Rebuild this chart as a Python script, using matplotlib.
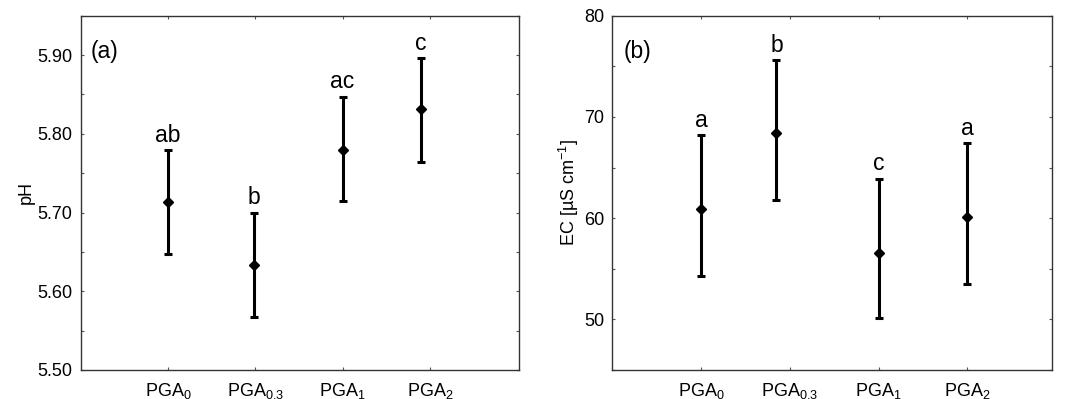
import matplotlib
matplotlib.use("Agg")
import matplotlib.pyplot as plt
from matplotlib.ticker import MultipleLocator

# treatments
labels = [r"PGA$_\mathregular{0}$", r"PGA$_\mathregular{0.3}$",
          r"PGA$_\mathregular{1}$", r"PGA$_\mathregular{2}$"]

# (a) pH: mean, lower, upper, letters, plotted x
ph_x = [1.0, 1.98, 3.0, 3.9]
ph_mean = [5.713, 5.633, 5.780, 5.831]
ph_low = [5.647, 5.567, 5.714, 5.764]
ph_high = [5.779, 5.700, 5.847, 5.896]
ph_letters = ["ab", "b", "ac", "c"]

# (b) EC: mean, lower, upper, letters, plotted x
ec_x = [1.0, 1.85, 3.0, 4.0]
ec_mean = [60.9, 68.4, 56.6, 60.1]
ec_low = [54.3, 61.8, 50.1, 53.5]
ec_high = [68.2, 75.6, 63.9, 67.4]
ec_letters = ["a", "b", "c", "a"]

plt.rcParams.update({
    'font.family': 'Liberation Sans',
    'mathtext.fontset': 'custom',
    'mathtext.rm': 'Liberation Sans',
    'font.size': 13,
    'axes.linewidth': 1.0,
    'axes.edgecolor': '#333333',
})

fig = plt.figure(figsize=(10.74, 3.99), dpi=100)
ax_a = fig.add_axes([0.0751, 0.0727, 0.4081, 0.888])
ax_b = fig.add_axes([0.5701, 0.0727, 0.4091, 0.888])


def draw_panel(ax, xs, mean, low, high, letters, tag, tag_x, ylabel):
    yerr = [[m - l for m, l in zip(mean, low)], [h - m for m, h in zip(mean, high)]]
    ax.errorbar(xs, mean, yerr=yerr, fmt='D', color='black', markersize=5.5,
                elinewidth=2.2, capsize=3.2, capthick=2.2, zorder=3)
    for x, h, t in zip(xs, high, letters):
        ax.annotate(t, (x, h), xytext=(0, 2.5), textcoords='offset points',
                    ha='center', va='bottom', fontsize=16.5)
    ax.text(tag_x, 0.9, tag, transform=ax.transAxes, fontsize=16.5,
            ha='left', va='center')
    ax.set_xticks([1, 2, 3, 4])
    ax.set_xticklabels(labels, fontsize=13)
    ax.set_ylabel(ylabel, fontsize=13, labelpad=2)
    ax.tick_params(which='both', direction='in', length=2.5, width=0.8,
                   color='#555555', top=True, right=True, pad=6)
    ax.tick_params(axis='x', labelsize=13, pad=8)


draw_panel(ax_a, ph_x, ph_mean, ph_low, ph_high, ph_letters, "(a)", 0.022, "pH")
ax_a.set_xlim(0, 5.02)
ax_a.set_ylim(5.50, 5.95)
ax_a.yaxis.set_minor_locator(MultipleLocator(0.05))
ax_a.set_yticks([5.5, 5.6, 5.7, 5.8, 5.9])
ax_a.set_yticklabels(["5.50", "5.60", "5.70", "5.80", "5.90"])

draw_panel(ax_b, ec_x, ec_mean, ec_low, ec_high, ec_letters, "(b)", 0.025,
           r"EC [µS cm$^\mathregular{-1}$]")
ax_b.set_xlim(0, 4.95)
ax_b.set_ylim(45, 80)
ax_b.set_yticks([50, 60, 70, 80])
ax_b.yaxis.set_minor_locator(MultipleLocator(5))

fig.savefig('out.png', dpi=100)
